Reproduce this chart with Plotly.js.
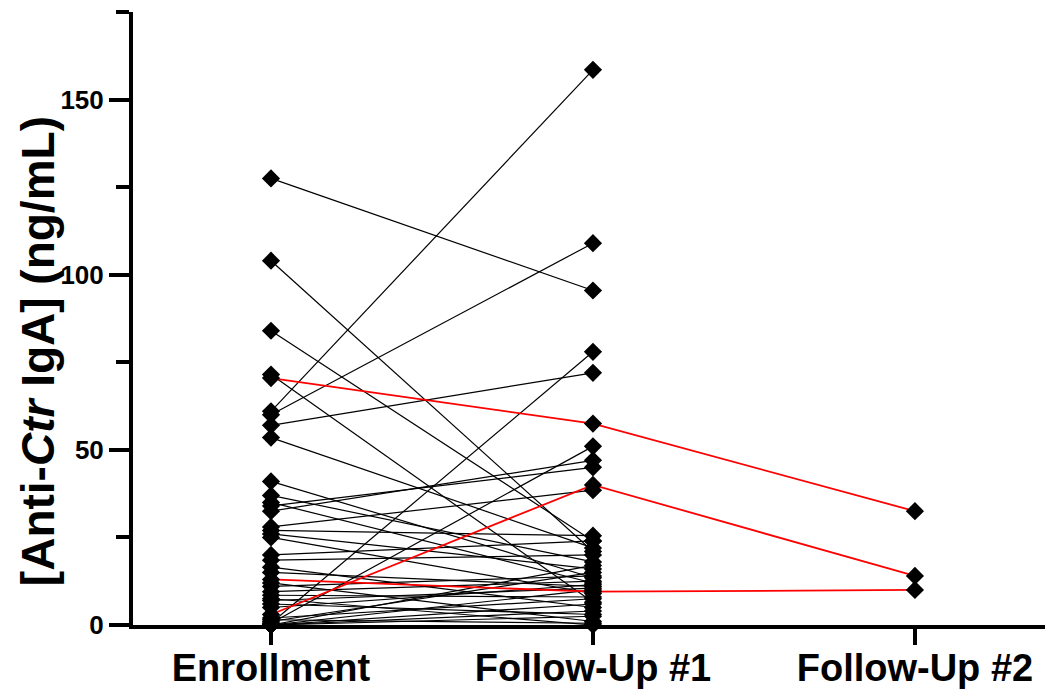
<!DOCTYPE html>
<html>
<head>
<meta charset="utf-8">
<script src="https://cdn.plot.ly/plotly-3.0.1.min.js"></script>
<style>html,body{margin:0;padding:0;background:#fff;}#chart{width:1045px;height:694px;}</style>
</head>
<body>
<div id="chart"></div>
<script>
// Timepoint categories
const categories = ['Enrollment', 'Follow-Up #1', 'Follow-Up #2'];
const yTickValues = [0, 50, 100, 150];
const yTickLabels = ['0', '50', '100', '150'];
const yTitle = '[Anti-<i>Ctr</i> IgA] (ng/mL)';

// Subjects with two visits (black lines): enrollment -> follow-up #1 (ng/mL)
const enrollment = [127.5, 104, 84, 71.5, 61, 60, 57, 53.5, 41, 37, 35, 34, 32.5, 28, 27, 26, 25,
  18.5, 16.5, 15, 11, 9.5, 8.5, 7, 6, 5, 2, 1, 0.5, 0.5, 0, 0, 0, 0, 0, 1.5, 12, 20, 7.5];
const followUp1 = [95.5, 21, 24, 6.5, 158.5, 109, 72, 22, 13.5, 18, 12, 45, 47, 38.5, 25.5, 16, 9,
  20, 5, 11, 14, 12.5, 8, 10.5, 3, 11.5, 7.5, 15, 78, 51, 10, 6, 4, 2.5, 17, 0.5, 1, 24, 0];

// Subjects with three visits (red lines)
const redEnrollment = [70.5, 3, 13];
const redFollowUp1 = [57.5, 40, 9.5];
const redFollowUp2 = [32.5, 14, 10];

const traces = [];
enrollment.forEach((v, i) => {
  traces.push({x: [0, 1], y: [v, followUp1[i]], mode: 'lines', type: 'scatter',
    line: {color: '#000', width: 1.2}, hoverinfo: 'skip', showlegend: false});
});
redEnrollment.forEach((v, i) => {
  traces.push({x: [0, 1, 2], y: [v, redFollowUp1[i], redFollowUp2[i]], mode: 'lines', type: 'scatter',
    line: {color: '#ff0000', width: 1.8}, hoverinfo: 'skip', showlegend: false});
});
const mk = {symbol: 'diamond', size: 14, color: '#000', line: {width: 0}};
const allE = enrollment.concat(redEnrollment);
const allF1 = followUp1.concat(redFollowUp1);
traces.push({x: allE.map(() => 0), y: allE, mode: 'markers', type: 'scatter', marker: mk, cliponaxis: false, showlegend: false});
traces.push({x: allF1.map(() => 1), y: allF1, mode: 'markers', type: 'scatter', marker: mk, cliponaxis: false, showlegend: false});
traces.push({x: redFollowUp2.map(() => 2), y: redFollowUp2, mode: 'markers', type: 'scatter', marker: mk, cliponaxis: false, showlegend: false});

const fam = 'Liberation Sans, Arial, Helvetica, sans-serif';
const layout = {
  width: 1045, height: 694,
  margin: {l: 133, r: 0, t: 12, b: 69},
  paper_bgcolor: '#fff', plot_bgcolor: '#fff',
  showlegend: false,
  xaxis: {
    range: [-0.4286, 2.404], showgrid: false, zeroline: false,
    showline: true, linecolor: '#000', linewidth: 4,
    tickmode: 'array', tickvals: [0, 1, 2], ticktext: categories,
    ticks: 'outside', ticklen: 16, tickwidth: 4, tickcolor: '#000',
    ticklabelstandoff: -10,
    tickfont: {family: fam, size: 38, color: '#000', weight: 'bold'}
  },
  yaxis: {
    range: [0, 175], showgrid: false, zeroline: false,
    showline: true, linecolor: '#000', linewidth: 4,
    tickmode: 'array', tickvals: yTickValues, ticktext: yTickLabels,
    ticks: 'outside', ticklen: 20, tickwidth: 4, tickcolor: '#000',
    minor: {tickvals: [25, 75, 125, 175], ticks: 'outside', ticklen: 13, tickwidth: 4, tickcolor: '#000', showgrid: false},
    tickfont: {family: fam, size: 26, color: '#000', weight: 'bold'}
  },
  annotations: [{
    text: yTitle, textangle: -90, xref: 'paper', yref: 'paper',
    x: -0.104, y: 0.447, xanchor: 'center', yanchor: 'middle', showarrow: false,
    font: {family: fam, size: 46, color: '#000', weight: 'bold'}
  }]
};
Plotly.newPlot('chart', traces, layout, {staticPlot: true, displayModeBar: false});
</script>
</body>
</html>
